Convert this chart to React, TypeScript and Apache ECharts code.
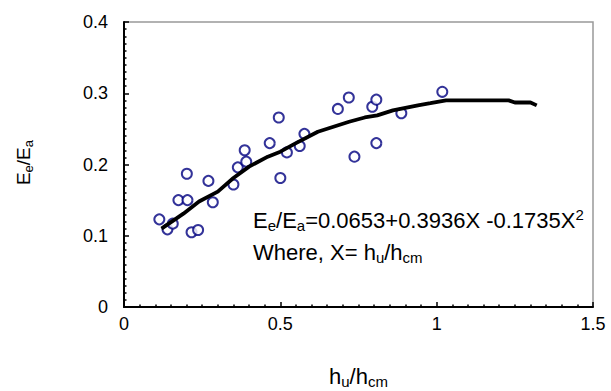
import React, { useEffect, useRef } from "react";
import * as echarts from "echarts";

const obsX = [0.113, 0.139, 0.156, 0.174, 0.203, 0.201, 0.216, 0.237, 0.270, 0.284, 0.350, 0.364, 0.391, 0.386, 0.466, 0.495, 0.500, 0.521, 0.562, 0.577, 0.684, 0.719, 0.737, 0.794, 0.807, 0.807, 0.887, 1.018];
const obsY = [0.123, 0.109, 0.117, 0.150, 0.150, 0.187, 0.105, 0.108, 0.177, 0.147, 0.172, 0.196, 0.204, 0.220, 0.230, 0.266, 0.181, 0.217, 0.226, 0.243, 0.278, 0.294, 0.211, 0.281, 0.291, 0.230, 0.272, 0.302];

const fitX = [0.12, 0.19, 0.24, 0.30, 0.35, 0.40, 0.46, 0.50, 0.55, 0.62, 0.67, 0.72, 0.77, 0.81, 0.86, 0.94, 0.98, 1.03, 1.23, 1.25, 1.30, 1.32];
const fitY = [0.110, 0.131, 0.148, 0.162, 0.181, 0.197, 0.211, 0.218, 0.230, 0.246, 0.253, 0.260, 0.266, 0.269, 0.276, 0.283, 0.286, 0.290, 0.290, 0.287, 0.287, 0.283];

const FONT = "'Liberation Sans', Arial, sans-serif";

function richSet(main: number, small: number, lh: number) {
  return {
    m: { fontSize: main, fontFamily: FONT, color: "#000", lineHeight: lh, verticalAlign: "middle" },
    s: { fontSize: small, fontFamily: FONT, color: "#000", lineHeight: small, verticalAlign: "bottom" },
    p: { fontSize: small, fontFamily: FONT, color: "#000", lineHeight: small, verticalAlign: "top" },
  };
}

export default function App() {
  const ref = useRef<HTMLDivElement>(null);
  useEffect(() => {
    if (!ref.current) return;
    const chart = echarts.init(ref.current, null, { renderer: "svg" });
    const big = richSet(22, 15, 26);
    const yr = richSet(19, 13, 22);
    chart.setOption({
      animation: false,
      grid: { left: 124, right: 18, top: 22, bottom: 84, show: true, borderColor: "#999", borderWidth: 1.5, backgroundColor: "transparent" },
      xAxis: {
        type: "value", min: 0, max: 1.5, interval: 0.5,
        axisLine: { lineStyle: { color: "#000", width: 2 } },
        axisTick: { inside: true, length: 5, lineStyle: { color: "#000", width: 1.5 } },
        minorTick: { show: true, splitNumber: 10, length: 2.5, lineStyle: { color: "#000", width: 1.5 } },
        splitLine: { show: false },
        axisLabel: { color: "#000", fontSize: 18, fontFamily: FONT, margin: 8 },
      },
      yAxis: {
        type: "value", min: 0, max: 0.4, interval: 0.1,
        axisLine: { lineStyle: { color: "#000", width: 2 } },
        axisTick: { inside: true, length: 5, lineStyle: { color: "#000", width: 1.5 } },
        minorTick: { show: true, splitNumber: 10, length: 2.5, lineStyle: { color: "#000", width: 1.5 } },
        splitLine: { show: false },
        axisLabel: { color: "#000", fontSize: 18, fontFamily: FONT, margin: 16 },
      },
      series: [
        {
          type: "scatter",
          data: obsX.map((x, i) => [x, obsY[i]]),
          symbol: "emptyCircle",
          symbolSize: 10,
          itemStyle: { color: "#000080", borderColor: "#000080", borderWidth: 1.8 },
          z: 3,
        },
        {
          type: "line",
          data: fitX.map((x, i) => [x, fitY[i]]),
          showSymbol: false,
          symbol: "none",
          lineStyle: { color: "#000", width: 3.8 },
          z: 4,
        },
      ],
      graphic: [
        {
          type: "text", left: 253, top: 207,
          style: { text: "{m|E}{s|e}{m|/E}{s|a}{m|=0.0653+0.3936X -0.1735X}{p|2}", rich: big },
        },
        {
          type: "text", left: 253, top: 241,
          style: { text: "{m|Where, X= h}{s|u}{m|/h}{s|cm}", rich: big },
        },
        {
          type: "text", left: 329, top: 365,
          style: { text: "{m|h}{s|u}{m|/h}{s|cm}", rich: big },
        },
        {
          type: "text", left: 14, top: 140, rotation: Math.PI / 2,
          style: { text: "{m|E}{s|e}{m|/E}{s|a}", rich: yr },
        },
      ],
    });
    return () => chart.dispose();
  }, []);
  return <div ref={ref} style={{ width: 611, height: 391, position: "absolute", left: 0, top: 0 }} />;
}
